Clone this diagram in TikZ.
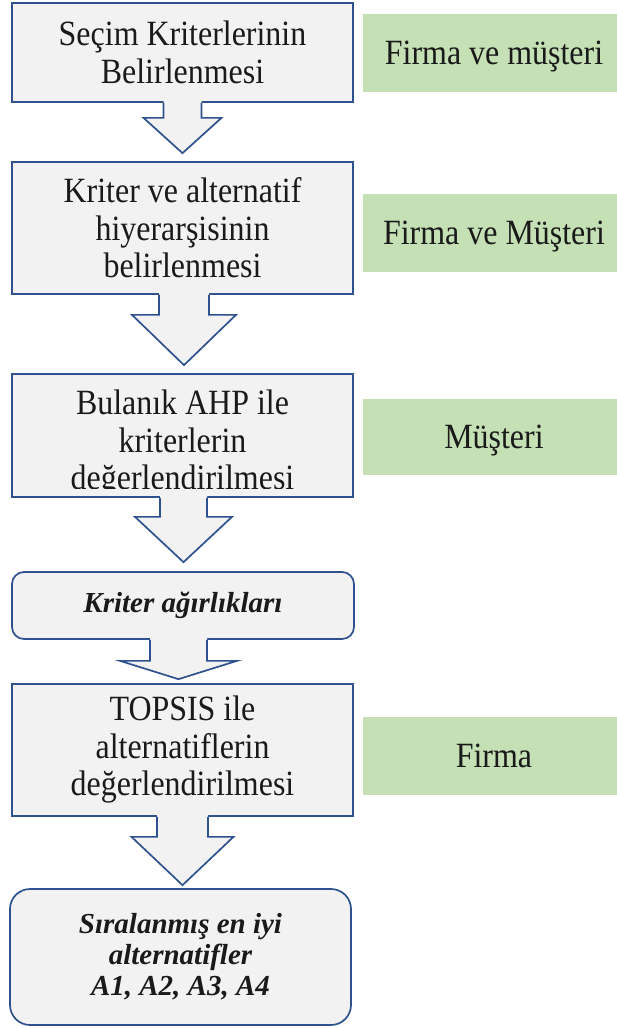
\documentclass[tikz,border=0pt]{standalone}
\usepackage{fontspec}
\setmainfont{Liberation Serif}[FakeStretch=0.9]
\newfontfamily\bifont{Liberation Serif}
\usetikzlibrary{calc}
\definecolor{bordc}{RGB}{47,82,143}
\definecolor{boxc}{RGB}{242,242,242}
\definecolor{greenc}{RGB}{197,224,180}
\definecolor{txtc}{RGB}{26,26,26}
\tikzset{
  box/.style={draw=bordc, fill=boxc, line width=1.7pt, text=txtc, align=center, inner sep=0pt,
    font={\fontsize{35.5}{37.5}\selectfont}},
  rbox/.style={box, font={\bifont\bfseries\itshape\fontsize{29}{31}\selectfont}},
  boxtext/.style={text=txtc, align=center, inner sep=0pt, font={\fontsize{35.5}{37.5}\selectfont}},
  gbox/.style={fill=greenc, text=txtc, inner sep=0pt, minimum width=262, text height=23.5pt, text depth=0pt,
    font={\fontsize{35.5}{37.5}\selectfont}},
  arrline/.style={draw=bordc, line width=1.7pt, line join=miter},
  arrfill/.style={fill=boxc}
}
% #1 from, #2 to, #3 dx, #4 shaft half width, #5 head half width, #6 head start, #7 gap
\newcommand{\blockarr}[7]{%
  \coordinate (s) at ($(#1.south)+(#3,0)$);
  \coordinate (e) at ($(#2.north)+(0,-#7)$);
  \fill[arrfill] ($(s)+(-#4,-2)$) -- ($(s)+(-#4,#6)$) -- ($(s)+(-#5,#6)$) -- (s |- e)
     -- ($(s)+(#5,#6)$) -- ($(s)+(#4,#6)$) -- ($(s)+(#4,-2)$) -- cycle;
  \draw[arrline] ($(s)+(-#4,0)$) -- ($(s)+(-#4,#6)$) -- ($(s)+(-#5,#6)$) -- (s |- e)
     -- ($(s)+(#5,#6)$) -- ($(s)+(#4,#6)$) -- ($(s)+(#4,0)$);
}
\begin{document}
\begin{tikzpicture}[x=1pt,y=-1pt]
\useasboundingbox (0,0) rectangle (617,1028);

\node[box, minimum width=341, minimum height=99] (b1) at (182.5,52.5) {Seçim Kriterlerinin\\Belirlenmesi};
\node[box, minimum width=341, minimum height=132] (b2) at (182.5,228) {Kriter ve alternatif\\hiyerarşisinin\\belirlenmesi};
\node[box, minimum width=341, minimum height=123] (b3) at (182.5,435.5) {};
\begin{scope}
  \clip (13,375) rectangle (352,488);
  \node[boxtext] (b3t) at (182.5,444) {Bulanık AHP ile\\kriterlerin\\değerlendirilmesi};
\end{scope}
\node[rbox, rounded corners=12pt, minimum width=342, minimum height=67] (b4) at (183,605.5) {Kriter ağırlıkları};
\node[box, minimum width=341, minimum height=132] (b5) at (182.5,750) {TOPSIS ile\\alternatiflerin\\değerlendirilmesi};
\node[rbox, rounded corners=20pt, minimum width=341, minimum height=136] (b6) at (180.5,957) {Sıralanmış en iyi\\alternatifler\\A1, A2, A3, A4};

\blockarr{b1}{b2}{0}{19}{39}{15}{8}
\blockarr{b2}{b3}{1.5}{25}{52}{20}{8}
\blockarr{b3}{b4}{1}{23.5}{48.5}{19}{9}
\blockarr{b4}{b5}{-4.5}{28.5}{58.5}{21}{4}
\blockarr{b5}{b6}{0}{25.5}{51}{20}{3}

\node[gbox, minimum height=78] (g1) at (494,53) {Firma ve müşteri};
\node[gbox, minimum height=78] (g2) at (494,233) {Firma ve Müşteri};
\node[gbox, minimum height=76] (g3) at (494,437) {Müşteri};
\node[gbox, minimum height=78] (g4) at (494,756) {Firma};
\end{tikzpicture}
\end{document}
